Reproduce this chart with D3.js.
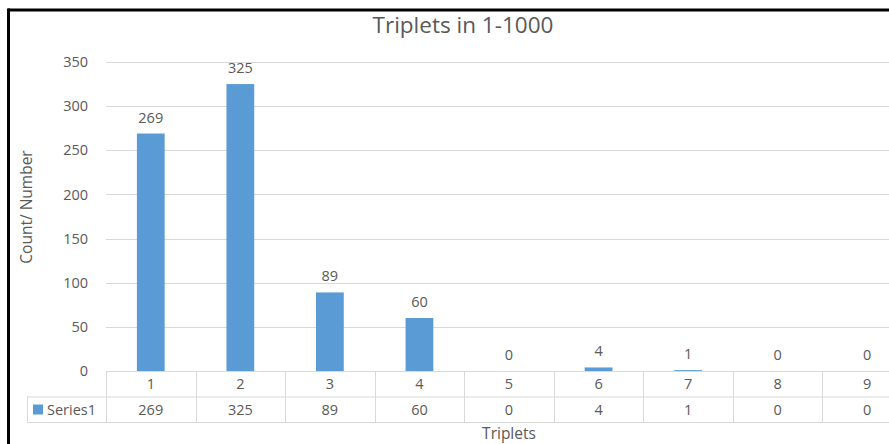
<!DOCTYPE html>
<html>
<head>
<meta charset="utf-8">
<script src="https://cdn.jsdelivr.net/npm/d3@7"></script>
<style>
  html, body { margin: 0; padding: 0; background: #fff; }
  svg { display: block; font-family: "Open Sans", sans-serif; }
</style>
</head>
<body>
<svg id="chart" width="889" height="444"></svg>
<script>
// Counts of triplets found in 1-1000
const categories = ["1", "2", "3", "4", "5", "6", "7", "8", "9"];
const seriesName = "Series1";
const values = [269, 325, 89, 60, 0, 4, 1, 0, 0];
const yTicks = [0, 50, 100, 150, 200, 250, 300, 350];

const W = 889, H = 444;
const svg = d3.select("#chart");
const textColor = "#595959";
const gridColor = "#d9d9d9";
const barColor = "#5b9bd5";

const plot = { left: 106, right: 912, top: 62, bottom: 371 };
const rowH = 25.5;

const x = d3.scaleBand().domain(categories).range([plot.left, plot.right]).paddingInner(0.69).paddingOuter(0.345);
const xCell = d3.scaleBand().domain(categories).range([plot.left, plot.right]);
const y = d3.scaleLinear().domain([0, 350]).range([plot.bottom, plot.top]);

// outer frame
svg.append("line").attr("x1", 8).attr("x2", W).attr("y1", 10).attr("y2", 10)
  .attr("stroke", "#000").attr("stroke-width", 3);
svg.append("line").attr("x1", 8.5).attr("x2", 8.5).attr("y1", 8.5).attr("y2", H)
  .attr("stroke", "#000").attr("stroke-width", 3);

// title
svg.append("text").attr("x", 463).attr("y", 33).attr("text-anchor", "middle")
  .attr("font-size", 22.5).attr("fill", textColor).text("Triplets in 1-1000");

// gridlines and y tick labels
const yAxis = d3.axisLeft(y).tickValues(yTicks).tickSize(0).tickPadding(18);
const gy = svg.append("g").attr("transform", `translate(${plot.left},0)`).call(yAxis);
gy.select(".domain").remove();
gy.selectAll("text").attr("font-size", 14.5).attr("fill", textColor)
  .attr("font-family", "'Open Sans', sans-serif");
svg.append("g").selectAll("line").data(yTicks.filter(d => d > 0)).join("line")
  .attr("x1", plot.left).attr("x2", W)
  .attr("y1", d => Math.round(y(d)) + 0.5).attr("y2", d => Math.round(y(d)) + 0.5)
  .attr("stroke", gridColor).attr("stroke-width", 1);

// bars
svg.append("g").selectAll("rect").data(values).join("rect")
  .attr("x", (d, i) => x(categories[i]))
  .attr("width", x.bandwidth())
  .attr("y", d => y(d))
  .attr("height", d => y(0) - y(d))
  .attr("fill", barColor);

// value labels above bars
svg.append("g").selectAll("text").data(values).join("text")
  .attr("x", (d, i) => x(categories[i]) + x.bandwidth() / 2)
  .attr("y", d => y(d) - 11)
  .attr("text-anchor", "middle").attr("font-size", 14.5).attr("fill", textColor)
  .text(d => d);

// data table below the axis
const tTop = plot.bottom, tMid = plot.bottom + rowH, tBot = plot.bottom + 2 * rowH;
const legendLeft = 27;
const tbl = svg.append("g").attr("stroke", gridColor).attr("stroke-width", 1);
tbl.append("line").attr("x1", plot.left).attr("x2", W).attr("y1", tTop + 0.5).attr("y2", tTop + 0.5);
tbl.append("line").attr("x1", legendLeft).attr("x2", W).attr("y1", tMid + 0.5).attr("y2", tMid + 0.5);
tbl.append("line").attr("x1", legendLeft).attr("x2", W).attr("y1", tBot + 0.5).attr("y2", tBot + 0.5);
tbl.append("line").attr("x1", legendLeft + 0.5).attr("x2", legendLeft + 0.5).attr("y1", tMid).attr("y2", tBot);
tbl.selectAll(".v").data(categories).join("line").attr("class", "v")
  .attr("x1", d => Math.round(xCell(d)) + 0.5).attr("x2", d => Math.round(xCell(d)) + 0.5)
  .attr("y1", tTop).attr("y2", tBot);

svg.append("g").selectAll("text").data(categories).join("text")
  .attr("x", d => xCell(d) + xCell.bandwidth() / 2).attr("y", tTop + 18)
  .attr("text-anchor", "middle").attr("font-size", 14.5).attr("fill", textColor)
  .text(d => d);
svg.append("g").selectAll("text").data(values).join("text")
  .attr("x", (d, i) => xCell(categories[i]) + xCell.bandwidth() / 2).attr("y", tMid + 18)
  .attr("text-anchor", "middle").attr("font-size", 14.5).attr("fill", textColor)
  .text(d => d);

// legend key inside the table
svg.append("rect").attr("x", 33).attr("y", tMid + 8).attr("width", 10).attr("height", 10).attr("fill", barColor);
svg.append("text").attr("x", 47).attr("y", tMid + 18).attr("font-size", 14.5).attr("fill", textColor).text(seriesName);

// axis titles
svg.append("text").attr("transform", `translate(32,${207}) rotate(-90)`)
  .attr("text-anchor", "middle").attr("font-size", 15.5).attr("fill", textColor).text("Count/ Number");
svg.append("text").attr("x", (plot.left + plot.right) / 2).attr("y", 439)
  .attr("text-anchor", "middle").attr("font-size", 15.5).attr("fill", textColor).text("Triplets");
</script>
</body>
</html>
